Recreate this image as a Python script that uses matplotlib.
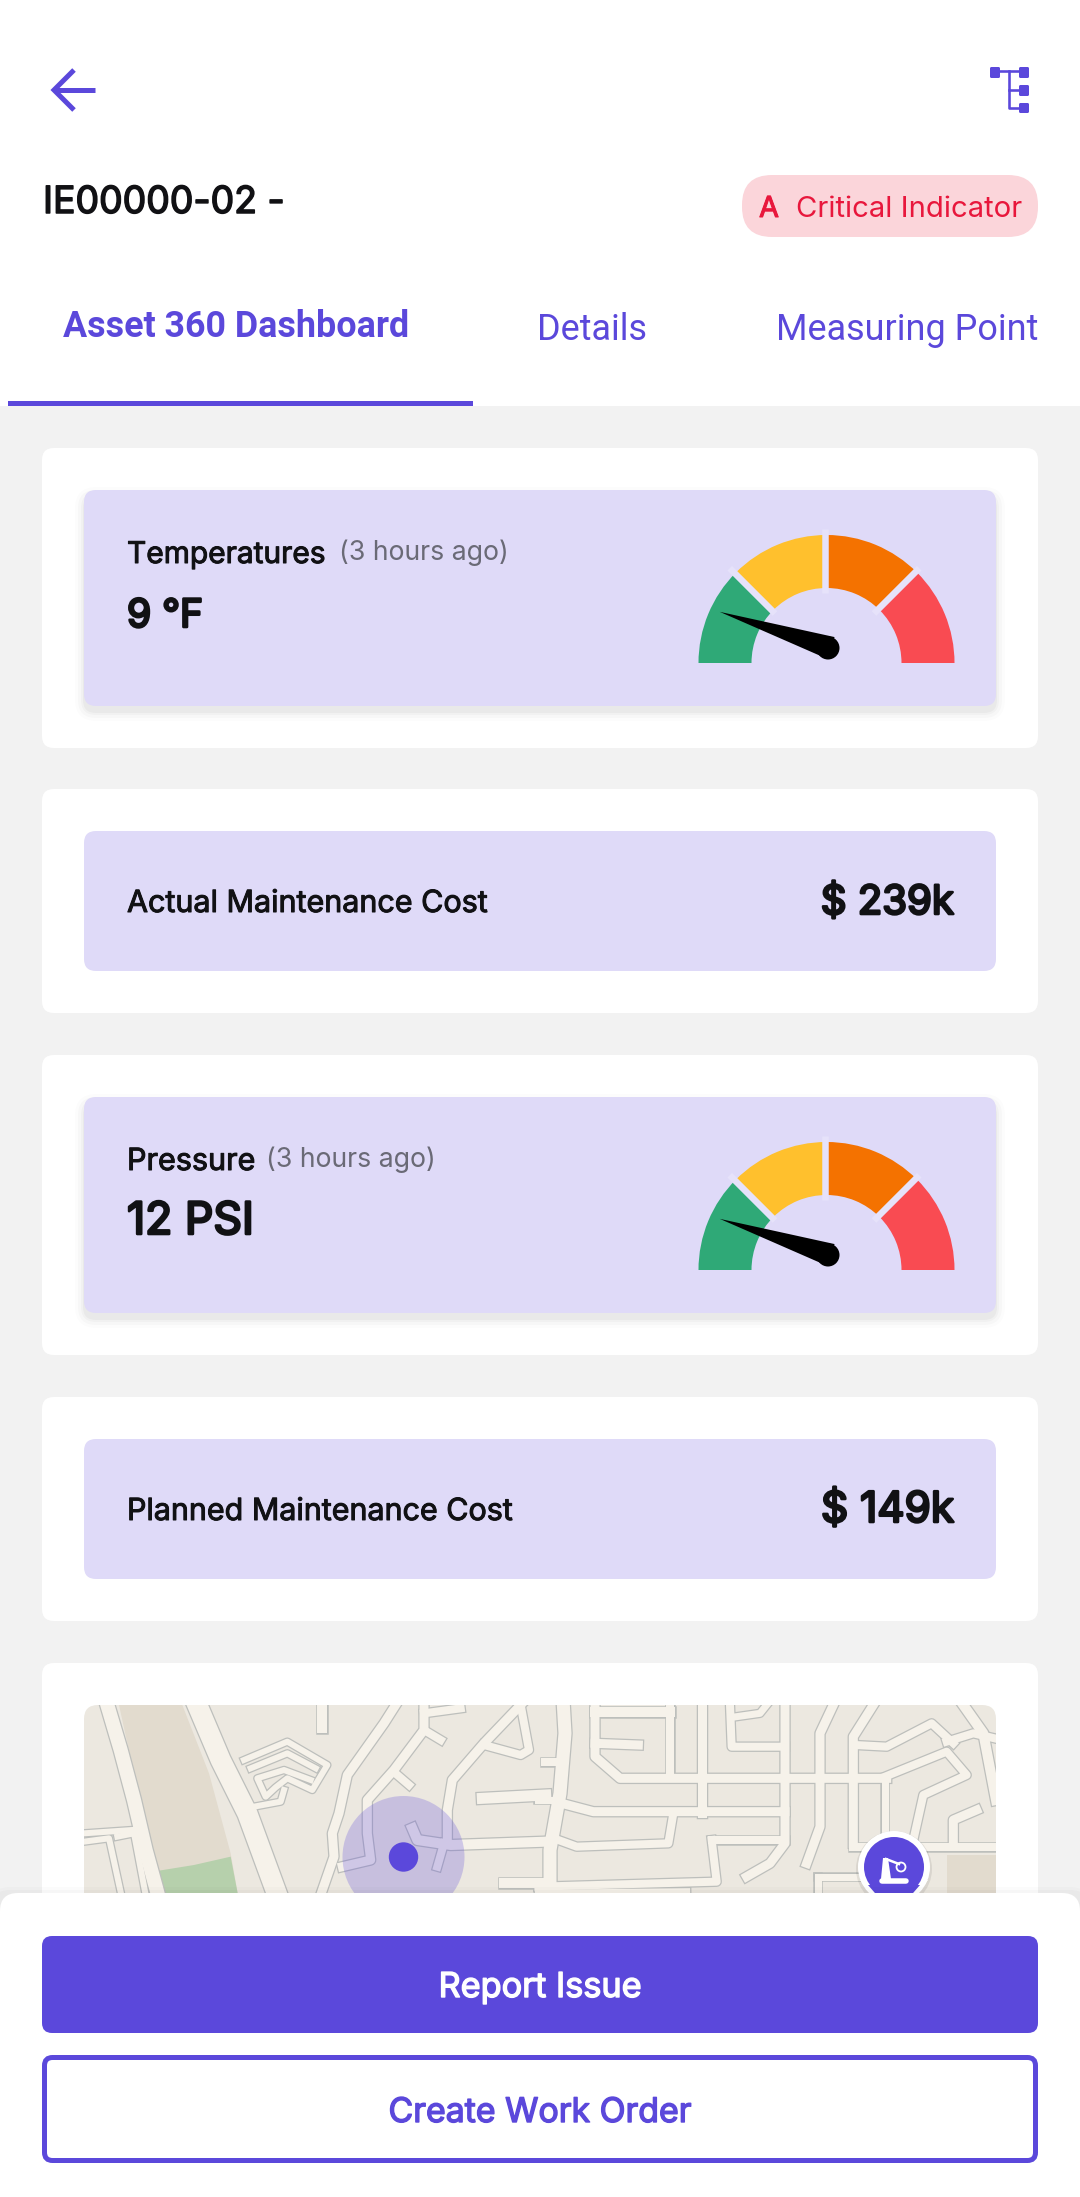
import numpy as np
import matplotlib
matplotlib.use("Agg")
import matplotlib.pyplot as plt
import matplotlib.patheffects as pe
from matplotlib.patches import FancyBboxPatch, Wedge, Circle, Polygon, Rectangle

W, H = 1080, 2197
PX = 72.0 / 100  # one pixel in points

PRIMARY = "#5B48DB"
LAVENDER = "#DFDAF8"
GREY_BG = "#F2F2F2"
INK = "#111114"

# chart values
band_colors = ["#2FA977", "#FFC02D", "#F47200", "#F94B52"]
band_sizes = [1, 1, 1, 1]
gauge_titles = ["Temperatures", "Pressure"]
gauge_values = ["9 °F", "12 PSI"]
gauge_ages = ["(3 hours ago)", "(3 hours ago)"]
needle_fractions = [0.1, 0.1]
cost_titles = ["Actual Maintenance Cost", "Planned Maintenance Cost"]
cost_values = ["$ 239k", "$ 149k"]
tab_names = ["Asset 360 Dashboard", "Details", "Measuring Point"]

# road centre lines, in crop units (3 per pixel), width in pixels
roads_left = [
    ([(70, 15), (110, 150), (150, 300), (185, 450), (222, 585)], 14),
    ([(340, 15), (410, 180), (490, 340), (580, 585)], 20),
    ([(0, 400), (145, 390)], 6),
    ([(0, 425), (75, 415), (112, 585)], 6),
    ([(100, 410), (150, 400), (185, 585)], 6),
    ([(480, 180), (610, 125), (730, 195), (685, 270), (610, 235), (575, 262), (545, 290), (520, 235), (600, 210), (680, 240)], 6),
    ([(500, 205), (610, 160), (695, 205)], 6),
    ([(510, 320), (590, 305), (600, 270)], 6),
    ([(715, 15), (715, 85)], 10),
    ([(935, 15), (900, 70), (790, 225), (765, 340), (745, 400), (750, 470), (710, 585)], 9),
    ([(1020, 15), (1020, 90), (930, 210), (850, 300), (850, 400), (860, 480), (775, 500)], 9),
    ([(1020, 90), (1070, 120)], 8),
    ([(940, 225), (975, 255)], 8),
    ([(1020, 40), (1130, 25)], 8),
    ([(1310, 15), (1200, 130), (1105, 240), (1090, 330), (1090, 420)], 9),
    ([(1200, 135), (1310, 165), (1335, 150), (1310, 15)], 8),
    ([(1195, 295), (1385, 285)], 11),
    ([(1385, 425), (1100, 435), (1000, 420), (985, 385)], 10),
    ([(1080, 430), (1060, 500)], 8),
    ([(1260, 550), (1385, 550)], 10),
]
roads_right = [
    ([(70, 15), (75, 100), (60, 280), (30, 450), (30, 585)], 13),
    ([(15, 185), (60, 185)], 8),
    ([(-5, 300), (60, 300)], 7),
    ([(165, 15), (165, 170), (240, 235), (1040, 235)], 9),
    ([(165, 130), (295, 135)], 9),
    ([(165, 35), (390, 35)], 10),
    ([(390, 15), (390, 235)], 8),
    ([(485, 15), (485, 340)], 9),
    ([(735, 15), (735, 430), (690, 490), (620, 530)], 9),
    ([(880, 15), (840, 100), (840, 380), (800, 490)], 9),
    ([(1000, 15), (940, 110), (940, 430)], 9),
    ([(570, 15), (575, 140), (735, 140)], 8),
    ([(590, 50), (660, 40), (680, 15)], 7),
    ([(945, 135), (1040, 140), (1175, 70), (1240, 130)], 8),
    ([(1035, 230), (1220, 155), (1280, 225), (1150, 285), (1120, 420)], 8),
    ([(1220, 125), (1300, 100), (1385, 120)], 8),
    ([(1270, 15), (1330, 100), (1368, 300)], 10),
    ([(65, 310), (160, 335), (735, 335)], 9),
    ([(400, 340), (385, 430), (110, 440), (55, 420)], 8),
    ([(515, 420), (735, 420)], 8),
    ([(515, 420), (530, 545), (-5, 560)], 8),
    ([(1240, 430), (1240, 360), (1310, 330)], 9),
    ([(940, 440), (1385, 440)], 8),
    ([(835, 530), (950, 530)], 7),
    ([(835, 530), (835, 585)], 7),
    ([(1035, 240), (1035, 430)], 7),
    ([(-5, 580), (440, 575)], 7),
]
tan_area = [(105, 15), (295, 15), (375, 220), (440, 460), (462, 585), (235, 585), (190, 400), (150, 220)]
green_area = [(225, 512), (330, 495), (440, 470), (462, 585), (240, 585)]

fig = plt.figure(figsize=(W / 100, H / 100), dpi=100, facecolor="white")
ax = fig.add_axes([0, 0, 1, 1])
ax.set_xlim(0, W)
ax.set_ylim(H, 0)
ax.axis("off")
renderer = fig.canvas.get_renderer()


def rbox(x0, y0, x1, y1, r, z=1, **kw):
    patch = FancyBboxPatch((x0, y0), x1 - x0, y1 - y0, boxstyle=f"round,pad=0,rounding_size={r}",
                           zorder=z, **kw)
    ax.add_patch(patch)
    return patch


def label(x, y, s, width, px, family="Inter", weight="normal", color=INK, ha="left", z=10, heavy=0):
    # the size is tuned so the text takes the width it has in the screenshot
    t = ax.text(x, y, s, family=family, weight=weight, color=color, fontsize=px * PX,
                ha=ha, va="baseline", zorder=z)
    got = t.get_window_extent(renderer).width
    t.set_fontsize(px * PX * width / got)
    if heavy:
        # Inter only comes in one weight here, thicken it with a stroke
        t.set_path_effects([pe.withStroke(linewidth=heavy * PX, foreground=color)])
    return t


def shadow(x0, y0, x1, y1, r, z):
    for grow, alpha in [(9, 0.012), (6, 0.018), (3, 0.025), (1, 0.03)]:
        rbox(x0 - grow, y0 + 6 - grow, x1 + grow, y1 + 6 + grow, r + grow, z=z,
             facecolor="black", edgecolor="none", alpha=alpha)


def gauge(dy, fraction):
    cx, cy = 826.5, 663 + dy
    edges = np.cumsum([0] + band_sizes) / float(sum(band_sizes))
    angles = 180 - edges * 180
    for i, color in enumerate(band_colors):
        ax.add_patch(Wedge((cx, cy), 128, -angles[i], -angles[i + 1], width=53,
                           facecolor=color, edgecolor="none", zorder=5))
    for a in angles[1:-1]:
        c, s = np.cos(np.radians(a)), np.sin(np.radians(a))
        ax.plot([cx - 2 + 70 * c, cx - 2 + 134 * c], [cy - 70 * s, cy - 134 * s], color="#E6E2FA",
                lw=6.5 * PX, solid_capstyle="butt", zorder=6)
    # needle
    hx, hy = cx + 4.5, cy - 15
    a = np.radians(180 - fraction * 180)
    ux, uy = np.cos(a), -np.sin(a)
    tip = (hx + 117 * ux, hy + 117 * uy)
    ax.add_patch(Polygon([tip, (hx - uy * 11.5, hy + ux * 11.5), (hx + uy * 11.5, hy - ux * 11.5)],
                         closed=True, facecolor="black", edgecolor="none", zorder=7))
    ax.add_patch(Circle((hx - 3, hy), 11.5, facecolor="black", edgecolor="none", zorder=7))


# page background
ax.add_patch(Rectangle((0, 406), W, H - 406, facecolor=GREY_BG, edgecolor="none", zorder=0))

# header
ax.plot([95, 54], [90, 90], color=PRIMARY, lw=5 * PX, solid_capstyle="butt", zorder=5)
ax.plot([74, 54, 74], [70, 90, 110], color=PRIMARY, lw=5 * PX, solid_joinstyle="miter",
        solid_capstyle="butt", zorder=5)
for x0, y0, x1, y1 in [(990, 67, 1000, 78), (1019, 67, 1029, 78), (1019, 85, 1029, 96), (1019, 103, 1029, 113)]:
    rbox(x0, y0, x1, y1, 1.5, z=5, facecolor=PRIMARY, edgecolor="none")
ax.plot([1000, 1019], [71, 71], color=PRIMARY, lw=2.6 * PX, zorder=5)
ax.plot([1009, 1009, 1020], [71, 108, 108], color=PRIMARY, lw=2.6 * PX, zorder=5)
ax.plot([1009, 1020], [90, 90], color=PRIMARY, lw=2.6 * PX, zorder=5)

label(43, 213, "IE00000-02 -", 241, 36, heavy=1.5)
rbox(742, 175, 1038, 237, 30, facecolor="#FBD5DA", edgecolor="none")
label(759, 217, "A", 20, 27, color="#E8173C", heavy=1.0)
label(796, 217, "Critical Indicator", 226, 27, color="#E8173C")

label(63, 337, tab_names[0], 346, 34, family="Roboto", weight="bold", color=PRIMARY)
label(537, 340, tab_names[1], 110, 34, family="Roboto", color=PRIMARY)
label(776, 340, tab_names[2], 262, 34, family="Roboto", color=PRIMARY)
ax.add_patch(Rectangle((8, 401), 465, 5, facecolor=PRIMARY, edgecolor="none", zorder=5))

# gauge cards
for i, dy in enumerate([0, 607]):
    rbox(42, 448 + dy, 1038, 748 + dy, 12, facecolor="white", edgecolor="none")
    shadow(84, 490 + dy, 996, 706 + dy, 12, 2)
    rbox(84, 490 + dy, 996, 706 + dy, 12, z=3, facecolor=LAVENDER, edgecolor="none")
    title_w = [198, 128][i]
    age_x = [339, 266][i]
    value_w = [76, 127][i]
    label(127, 563 + dy, gauge_titles[i], title_w, 28, heavy=1.0)
    label(age_x, 560 + dy, gauge_ages[i], 170, 25, color="#6A6A76")
    label(127, 627 + dy, gauge_values[i], value_w, 42, heavy=2.6)
    gauge(dy, needle_fractions[i])

# cost cards
for i, dy in enumerate([0, 608]):
    rbox(42, 789 + dy, 1038, 1013 + dy, 12, facecolor="white", edgecolor="none")
    rbox(84, 831 + dy, 996, 971 + dy, 12, z=3, facecolor=LAVENDER, edgecolor="none")
    label(127, 912 + dy, cost_titles[i], [360, 385][i], 28, heavy=1.0)
    label(954, 914 + dy, cost_values[i], 133, 42, ha="right", heavy=2.6)

# map card
rbox(42, 1663, 1038, 2100, 12, facecolor="white", edgecolor="none")
map_box = rbox(84, 1705, 996, 1950, 14, z=2, facecolor="#ECE8E0", edgecolor="none")


def left_crop(pts):
    return [(84 + x / 3.0, 1700 + y / 3.0) for x, y in pts]


def right_crop(pts):
    return [(540 + x / 3.0, 1700 + y / 3.0) for x, y in pts]


ax.add_patch(Polygon(left_crop(tan_area), closed=True, facecolor="#E2DBCE", edgecolor="none", zorder=2.1,
                     clip_path=map_box))
ax.add_patch(Polygon(left_crop(green_area), closed=True, facecolor="#B6D0AC", edgecolor="none", zorder=2.2,
                     clip_path=map_box))
ax.add_patch(Rectangle((927 + 20, 1855), 60, 60, facecolor="#E2DBCE", edgecolor="none", zorder=2.1,
                       clip_path=map_box))

road_lines = [(left_crop(p), w) for p, w in roads_left] + [(right_crop(p), w) for p, w in roads_right]
for pts, w in road_lines:
    xs, ys = zip(*pts)
    ax.plot(xs, ys, color="#BDBFBC", lw=(w + 2.5) * PX, zorder=2.3, solid_joinstyle="round",
            clip_path=map_box)
for pts, w in road_lines:
    xs, ys = zip(*pts)
    ax.plot(xs, ys, color="#F6F2EA", lw=w * PX, zorder=2.4, solid_joinstyle="round",
            clip_path=map_box)

# location marker
ax.add_patch(Circle((403.5, 1857), 61, facecolor=PRIMARY, edgecolor="none", alpha=0.25, zorder=3))
ax.add_patch(Circle((403.5, 1857), 14.7, facecolor=PRIMARY, edgecolor="none", zorder=3.1))

# asset pin
ax.add_patch(Circle((894, 1869), 38, facecolor="black", edgecolor="none", alpha=0.08, zorder=3))
ax.add_patch(Polygon([(860, 1880), (928, 1880), (894, 1925)], closed=True, facecolor="white", edgecolor="none", zorder=3.1))
ax.add_patch(Circle((894, 1867), 36, facecolor="white", edgecolor="none", zorder=3.2))
ax.add_patch(Polygon([(868, 1885), (920, 1885), (894, 1915)], closed=True, facecolor=PRIMARY, edgecolor="none", zorder=3.3))
ax.add_patch(Circle((894, 1867), 30, facecolor=PRIMARY, edgecolor="none", zorder=3.4))
ax.add_patch(Polygon([(883, 1858), (888, 1858), (891, 1879), (881, 1879)], closed=True, facecolor="white", edgecolor="none", zorder=3.5))
ax.plot([886, 899], [1859, 1864], color="white", lw=2.5 * PX, zorder=3.5)
ax.plot([882, 906], [1881, 1881], color="white", lw=5.5 * PX, solid_capstyle="round", zorder=3.5)
ax.add_patch(Circle((901, 1867), 4.5, facecolor="none", edgecolor="white", lw=1.8 * PX, zorder=3.5))

# bottom panel
for grow, alpha in [(6, 0.015), (3, 0.02)]:
    rbox(-10, 1893 - grow, W + 10, H + 40, 20, z=7.5, facecolor="black", edgecolor="none", alpha=alpha)
rbox(0, 1893, W, H + 40, 18, z=8, facecolor="white", edgecolor="none")
rbox(42, 1936, 1038, 2033, 10, z=9, facecolor=PRIMARY, edgecolor="none")
rbox(44.5, 2057.5, 1035.5, 2160.5, 8, z=9, facecolor="white", edgecolor=PRIMARY, lw=5 * PX)
label(540, 1997, "Report Issue", 203, 31, color="white", ha="center", heavy=1.4)
label(540, 2122, "Create Work Order", 303, 31, color=PRIMARY, ha="center", heavy=1.4)

fig.savefig("out.png", dpi=100, facecolor="white")
